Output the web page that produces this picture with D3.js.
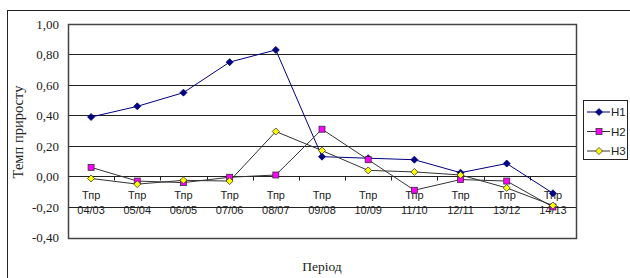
<!DOCTYPE html>
<html>
<head>
    <meta charset="utf-8">
    <style>
        body { margin: 0; background: #fff; }
        .ytick { font: 13px "Liberation Serif", "Times New Roman", serif; fill: #222; }
        .xcat { font: 11px "Liberation Sans", Arial, sans-serif; fill: #222; }
        .title { font: 13.5px "Liberation Serif", "Times New Roman", serif; fill: #222; }
        .ytitle { font: 14.5px "Liberation Serif", "Times New Roman", serif; fill: #222; }
        .legend text { font: 11.5px "Liberation Sans", Arial, sans-serif; fill: #222; }
    </style>
</head>
<body>
    <svg width="630" height="278"></svg>

    <script src="https://cdnjs.cloudflare.com/ajax/libs/d3/7.8.5/d3.min.js"></script>

    <script>
        var periods = ["04/03", "05/04", "06/05", "07/06", "08/07", "09/08", "10/09", "11/10", "12/11", "13/12", "14/13"];
        var yTicks = [-0.4, -0.2, 0, 0.2, 0.4, 0.6, 0.8, 1.0];
        var h1 = [0.39, 0.46, 0.55, 0.75, 0.83, 0.13, 0.12, 0.11, 0.025, 0.085, -0.11];
        var h2 = [0.06, -0.03, -0.04, -0.005, 0.01, 0.31, 0.11, -0.09, -0.02, -0.03, -0.20];
        var h3 = [-0.013, -0.05, -0.025, -0.03, 0.295, 0.17, 0.04, 0.03, 0.01, -0.075, -0.19];

        var series = [
            {name: "H1", values: h1, line: "#000080", fill: "#000080", stroke: "#000080", shape: "diamond"},
            {name: "H2", values: h2, line: "#333", fill: "#ff00ff", stroke: "#333", shape: "square"},
            {name: "H3", values: h3, line: "#333", fill: "#ffff00", stroke: "#333", shape: "diamond"}
        ];

        var svg = d3.select("svg");
        var plotLeft = 68, plotRight = 576, plotTop = 24, plotBottom = 237.5;

        var x = d3.scaleBand().domain(periods).range([plotLeft, plotRight]);
        var y = d3.scaleLinear().domain([-0.4, 1.0]).range([plotBottom, plotTop]);
        var fmt = function(d) { return d3.format(".2f")(d).replace(".", ",").replace("−", "-"); };

        // outer frame
        svg.append("rect").attr("x", 7.5).attr("y", 10.5).attr("width", 640).attr("height", 290)
            .attr("fill", "none").attr("stroke", "#222");

        // grid
        svg.append("g").selectAll("line").data(yTicks).enter().append("line")
            .attr("x1", plotLeft).attr("x2", plotRight)
            .attr("y1", function(d) { return Math.round(y(d)) + 0.5; })
            .attr("y2", function(d) { return Math.round(y(d)) + 0.5; })
            .attr("stroke", "#222").attr("stroke-width", 1);

        // plot border
        svg.append("rect").attr("x", plotLeft + 0.5).attr("y", Math.round(plotTop) + 0.5)
            .attr("width", plotRight - plotLeft).attr("height", Math.round(plotBottom) - Math.round(plotTop))
            .attr("fill", "none").attr("stroke", "#444").attr("stroke-width", 1.5);

        // y axis labels
        svg.append("g").selectAll("text").data(yTicks).enter().append("text")
            .attr("class", "ytick")
            .attr("x", plotLeft - 9).attr("y", function(d) { return y(d); })
            .attr("dy", "0.35em").attr("text-anchor", "end")
            .text(fmt);

        // x ticks on zero line
        var zeroY = Math.round(y(0)) + 0.5;
        svg.append("g").selectAll("line").data(periods.slice(1)).enter().append("line")
            .attr("x1", function(d) { return Math.round(x(d)) + 0.5; })
            .attr("x2", function(d) { return Math.round(x(d)) + 0.5; })
            .attr("y1", zeroY).attr("y2", zeroY + 4)
            .attr("stroke", "#222");

        // category labels
        var cat = svg.append("g").selectAll("g").data(periods).enter().append("g")
            .attr("transform", function(d) { return "translate(" + (x(d) + x.bandwidth() / 2) + ",0)"; });
        cat.append("text").attr("class", "xcat").attr("text-anchor", "middle")
            .attr("y", 199).text("Тпр");
        cat.append("text").attr("class", "xcat").attr("text-anchor", "middle")
            .attr("y", 214).text(function(d) { return d; });

        // lines
        var line = d3.line()
            .x(function(d, i) { return x(periods[i]) + x.bandwidth() / 2; })
            .y(function(d) { return y(d); });

        function marker(sel, s) {
            if (s.shape === "diamond") {
                sel.append("path").attr("d", "M0,-3.5L3.5,0L0,3.5L-3.5,0Z");
            } else {
                sel.append("rect").attr("x", -3).attr("y", -3).attr("width", 6).attr("height", 6);
            }
            sel.selectAll("path,rect").attr("fill", s.fill).attr("stroke", s.stroke).attr("stroke-width", 0.8);
        }

        series.forEach(function(s) {
            svg.append("path").datum(s.values)
                .attr("d", line).attr("fill", "none")
                .attr("stroke", s.line).attr("stroke-width", 1);
        });
        series.forEach(function(s) {
            svg.append("g").selectAll("g").data(s.values).enter().append("g")
                .attr("transform", function(d, i) { return "translate(" + (x(periods[i]) + x.bandwidth() / 2) + "," + y(d) + ")"; })
                .each(function() { marker(d3.select(this), s); });
        });

        // axis titles
        svg.append("text").attr("class", "ytitle")
            .attr("transform", "translate(23,132) rotate(-90)")
            .attr("text-anchor", "middle").text("Темп приросту");
        svg.append("text").attr("class", "title")
            .attr("x", 322).attr("y", 271).attr("text-anchor", "middle").text("Період");

        // legend
        var lg = svg.append("g").attr("class", "legend");
        lg.append("rect").attr("x", 583.5).attr("y", 100.5).attr("width", 44).attr("height", 59)
            .attr("fill", "#fff").attr("stroke", "#222");
        var item = lg.selectAll("g").data(series).enter().append("g")
            .attr("transform", function(d, i) { return "translate(0," + (112 + i * 19.5) + ")"; });
        item.append("line").attr("x1", 587).attr("x2", 610).attr("y1", 0).attr("y2", 0)
            .attr("stroke", function(d) { return d.line; });
        item.append("g").attr("transform", "translate(599,0)").each(function(d) { marker(d3.select(this), d); });
        item.append("text").attr("x", 611).attr("dy", "0.35em").text(function(d) { return d.name; });
    </script>
</body>
</html>
